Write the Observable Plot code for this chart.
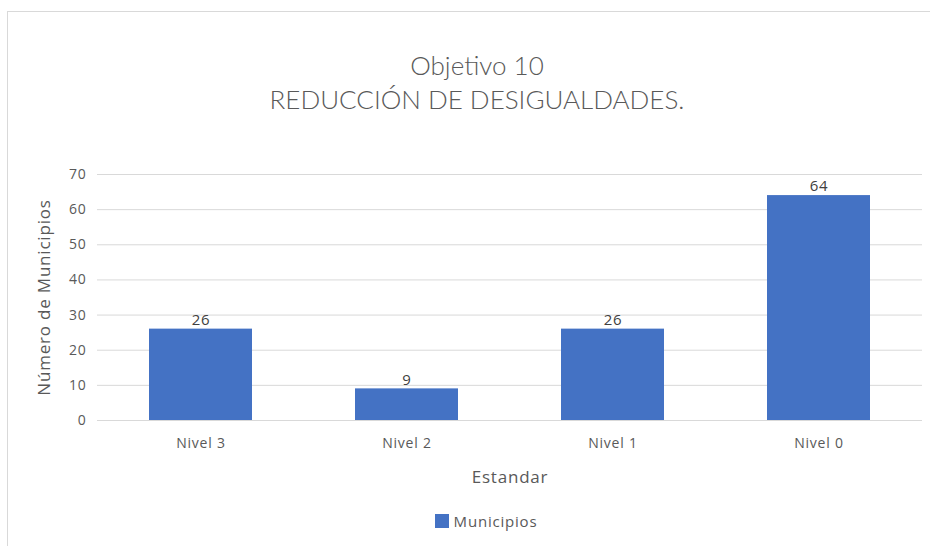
<!DOCTYPE html>
<html>
<head>
<meta charset="utf-8">
<script src="https://cdn.jsdelivr.net/npm/d3@7"></script>
<script src="https://cdn.jsdelivr.net/npm/@observablehq/plot@0.6"></script>
<style>
  html, body { margin: 0; padding: 0; background: #fff; }
  body { width: 930px; height: 546px; overflow: hidden; position: relative; font-family: "Open Sans", sans-serif; }
  #frame { position: absolute; left: 7px; top: 11px; width: 940px; height: 560px; border: 1px solid #d9d9d9; box-sizing: border-box; pointer-events: none; }
  #title { position: absolute; left: 0; top: 48px; width: 954px; text-align: center; font-family: Lato, sans-serif; font-weight: 300; font-size: 26px; line-height: 34px; color: #595959; }
  #chart { position: absolute; left: 0; top: 150px; }
  #chart svg { background: transparent; }
  #legend { position: absolute; left: 0; top: 511px; width: 930px; display: flex; justify-content: center; align-items: center; font-size: 15px; letter-spacing: 0.8px; color: #595959; }
  #legend .sw { width: 14px; height: 14px; background: #4472C4; margin-right: 5px; margin-left: 42px; }
</style>
</head>
<body>
<div id="title">Objetivo 10<br>REDUCCIÓN DE DESIGUALDADES.</div>
<div id="chart"></div>
<div id="legend"><span class="sw"></span><span>Municipios</span></div>
<div id="frame"></div>
<script>
const categories = ["Nivel 3", "Nivel 2", "Nivel 1", "Nivel 0"];
const municipios = [26, 9, 26, 64];
const yTicks = [0, 10, 20, 30, 40, 50, 60, 70];

const data = categories.map((c, i) => ({nivel: c, value: municipios[i]}));

const chart = Plot.plot({
  width: 930,
  height: 345,
  marginLeft: 97,
  marginRight: 8,
  marginTop: 24,
  marginBottom: 75,
  style: {fontFamily: "Open Sans, sans-serif", fontSize: "14px", color: "#595959", background: "transparent", letterSpacing: "0.8px"},
  x: {domain: categories, paddingInner: 0.5, paddingOuter: 0.25, label: null},
  y: {domain: [0, 70], label: null},
  marks: [
    Plot.gridY(yTicks, {stroke: "#d9d9d9", strokeOpacity: 1}),
    Plot.barY(data, {x: "nivel", y: "value", fill: "#4472C4", insetLeft: 0, insetRight: 0}),
    Plot.ruleY([0], {stroke: "#d9d9d9"}),
    Plot.text(data, {x: "nivel", y: "value", text: d => String(d.value), dy: -9, fill: "#404040", fontSize: 15}),
    Plot.axisY(yTicks, {tickSize: 0, tickPadding: 11, fontSize: 14, fill: "#595959", label: null}),
    Plot.axisX({tickSize: 0, tickPadding: 18, fontSize: 14, fill: "#595959", label: null}),
    Plot.text(["Número de Municipios"], {frameAnchor: "left", textAnchor: "middle", dx: -53, rotate: -90, fontSize: 17, fill: "#595959"}),
    Plot.text(["Estandar"], {frameAnchor: "bottom", dy: 62, fontSize: 17, fill: "#595959"})
  ]
});
document.getElementById("chart").appendChild(chart);
</script>
</body>
</html>
